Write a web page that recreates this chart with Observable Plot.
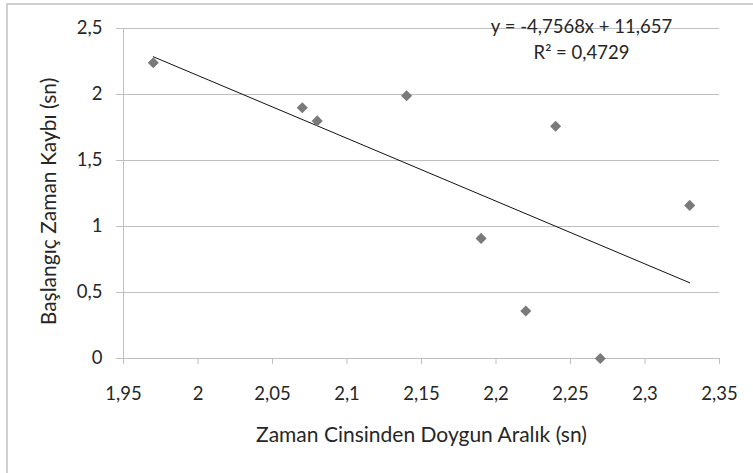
<!DOCTYPE html>
<html><head><meta charset="utf-8">
<script src="https://cdn.jsdelivr.net/npm/d3@7"></script>
<script src="https://cdn.jsdelivr.net/npm/@observablehq/plot@0.6"></script>
<style>
html,body{margin:0;padding:0;background:#fff;}
#wrap{position:relative;width:753px;height:473px;overflow:hidden;}
#border{position:absolute;left:6px;top:3px;width:800px;height:520px;border-left:2px solid #d0d0d0;border-top:2px solid #d0d0d0;pointer-events:none;}
</style></head><body><div id="wrap"><div id="chart"></div><div id="border"></div></div>
<script>
const xVals = [1.97, 2.07, 2.08, 2.14, 2.19, 2.22, 2.24, 2.27, 2.33];
const yVals = [2.24, 1.9, 1.8, 1.99, 0.91, 0.36, 1.76, 0, 1.16];
const xTicks = [1.95, 2, 2.05, 2.1, 2.15, 2.2, 2.25, 2.3, 2.35];
const yTicks = [0, 0.5, 1, 1.5, 2, 2.5];
const slope = -4.7568;
const intercept = 11.657;
const eqLine1 = ["y = -4,7568x + 11,657"];
const eqLine2 = ["R² = 0,4729"];
const xTitle = ["Zaman Cinsinden Doygun Aralık (sn)"];
const yTitle = ["Başlangıç Zaman Kaybı (sn)"];

const points = xVals.map((x, i) => ({x, y: yVals[i]}));
const xr = d3.extent(xVals);
const trend = xr.map(x => ({x, y: slope * x + intercept}));
const fmt = d => String(+(+d).toFixed(2)).replace(".", ",");
const grid = "#bfbfbf";

const chart = Plot.plot({
  width: 753, height: 473,
  marginLeft: 123, marginRight: 34, marginTop: 28, marginBottom: 115,
  style: {fontFamily: "Lato, sans-serif", fontSize: "18.5px", color: "#262626", background: "transparent"},
  x: {domain: [1.95, 2.35]},
  y: {domain: [0, 2.5]},
  marks: [
    Plot.gridY(yTicks, {stroke: grid, strokeOpacity: 1}),
    Plot.ruleX([1.95], {stroke: grid}),
    Plot.ruleY([0], {stroke: grid}),
    Plot.axisX({ticks: xTicks, tickSize: 6, tickPadding: 22, tickFormat: fmt, stroke: grid, label: null}),
    Plot.axisY({ticks: yTicks, tickSize: 7, tickPadding: 14, tickFormat: fmt, stroke: grid, label: null}),
    Plot.line(trend, {x: "x", y: "y", stroke: "#111", strokeWidth: 1}),
    Plot.dot(points, {x: "x", y: "y", symbol: "diamond2", r: 5, fill: "#7a7a7a", stroke: "none"}),
    Plot.text(xTitle, {frameAnchor: "bottom", lineAnchor: "bottom", dy: 83, fontSize: 21}),
    Plot.text(yTitle, {frameAnchor: "left", textAnchor: "middle", rotate: -90, lineAnchor: "bottom", dx: -68, dy: 8, fontSize: 21}),
    Plot.text(eqLine1, {frameAnchor: "top", lineAnchor: "bottom", dx: 160, dy: 4.5, fontSize: 18.5}),
    Plot.text(eqLine2, {frameAnchor: "top", lineAnchor: "bottom", dx: 160, dy: 30.5, fontSize: 18.5})
  ]
});
document.getElementById("chart").appendChild(chart);
</script>
</body></html>
